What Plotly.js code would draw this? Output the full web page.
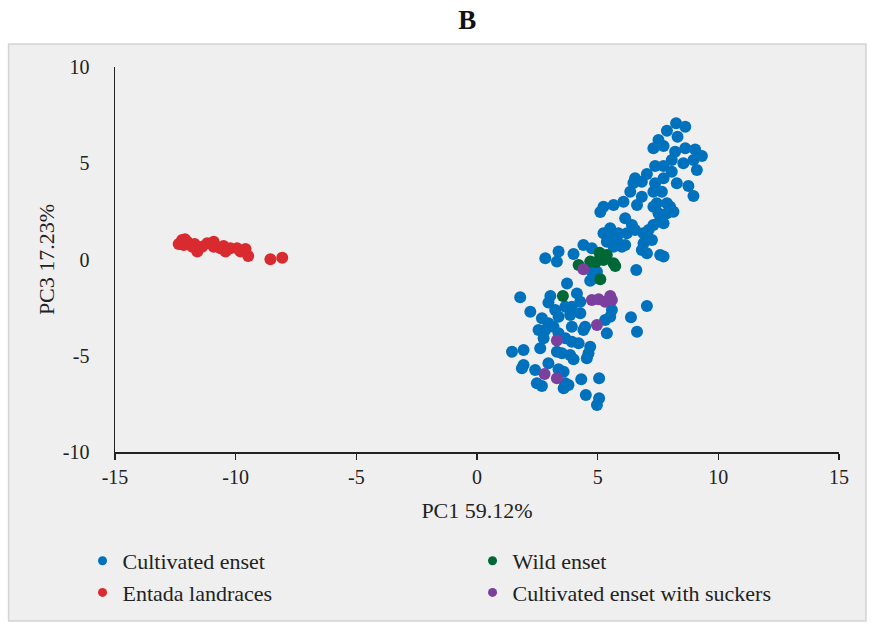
<!DOCTYPE html>
<html>
<head>
<meta charset="utf-8">
<script src="https://cdn.plot.ly/plotly-3.0.1.min.js"></script>
<style>
html,body{margin:0;padding:0;background:#fff;}
#chart{width:874px;height:624px;}
</style>
</head>
<body>
<div id="chart"></div>
<script>
// ---- data (PC1, PC3 scores) ----
const cultivatedX = [8.25,8.63,7.87,8.31,7.52,7.31,7.73,8.63,9.04,9.32,8.21,8.07,8.55,8.97,9.11,7.38,7.73,8.07,7.04,6.55,6.48,7.73,8.28,8.76,8.97,7.38,6.83,6.35,6.83,7.31,7.66,7.45,7.87,6.63,6.07,5.66,5.24,5.11,6.14,8.00,7.31,8.14,7.87,7.59,7.31,7.11,6.90,7.04,7.25,6.90,6.83,7.04,7.59,7.73,7.52,7.73,6.42,6.55,6.21,5.86,5.24,5.52,5.52,5.80,6.00,5.66,6.14,5.38,4.41,4.76,4.00,3.38,2.83,3.31,4.76,4.97,4.83,6.60,3.73,4.69,1.79,3.04,2.96,4.14,4.28,5.59,5.52,5.31,2.21,3.24,3.66,3.93,3.38,3.86,4.28,2.69,2.96,2.55,2.83,3.17,3.38,3.93,4.48,4.41,5.38,2.76,3.66,3.93,4.21,2.62,3.31,3.52,3.86,4.69,4.62,4.55,4.00,1.45,1.93,1.93,1.86,2.41,2.96,3.38,3.59,2.48,2.69,3.66,3.79,3.59,4.32,5.06,4.51,5.06,4.97,7.04,6.38,6.63];
const cultivatedY = [7.08,6.90,6.69,6.38,6.21,5.78,5.90,5.78,5.72,5.38,5.60,5.17,5.00,5.17,4.65,4.86,4.86,4.56,4.44,4.22,3.97,4.22,3.96,3.82,3.30,3.96,4.04,3.52,3.26,3.52,3.52,2.92,2.92,2.83,3.00,2.83,2.74,2.47,2.14,2.74,2.74,2.48,2.40,2.05,1.79,1.53,1.36,1.10,1.01,0.84,0.49,0.32,0.23,0.15,2.40,1.88,1.79,1.53,1.36,1.36,1.36,1.62,1.10,1.01,0.66,0.66,0.75,0.92,0.75,0.58,0.29,0.41,0.06,-0.11,-0.63,-0.63,-0.98,-0.55,-1.25,-1.10,-1.96,-1.90,-2.24,-1.76,-2.19,-2.62,-2.97,-3.14,-2.71,-2.62,-2.45,-2.45,-2.97,-2.88,-2.79,-3.05,-3.31,-3.66,-3.66,-3.49,-3.83,-3.49,-3.49,-3.66,-3.83,-4.09,-4.09,-4.27,-4.35,-4.61,-4.79,-4.87,-4.96,-4.53,-4.87,-5.13,-5.18,-4.79,-4.70,-5.48,-5.65,-5.74,-5.39,-5.70,-5.83,-6.43,-6.57,-6.43,-6.52,-6.69,-6.22,-6.17,-7.04,-7.21,-7.56,-2.42,-3.00,-3.75];

const wildX = [5.08,5.38,5.24,4.69,4.21,5.66,5.73,4.93,5.11,3.56];
const wildY = [0.35,0.23,-0.03,-0.11,-0.29,-0.20,-0.34,-0.13,-1.03,-1.90];

const entadaX = [-12.36,-12.22,-12.10,-12.01,-12.15,-11.80,-11.70,-11.59,-11.39,-11.18,-10.91,-10.91,-10.63,-10.50,-10.42,-10.22,-9.94,-9.80,-9.59,-9.48,-8.56,-8.07];
const entadaY = [0.80,1.01,1.05,0.92,0.75,0.66,0.80,0.41,0.66,0.84,0.92,0.66,0.58,0.70,0.41,0.58,0.58,0.41,0.55,0.18,0.01,0.09];

const suckersX = [4.41,4.76,5.04,5.31,5.59,5.52,4.97,3.31,2.80,3.31];
const suckersY = [-0.51,-2.10,-2.07,-2.19,-2.10,-1.90,-3.40,-4.21,-5.95,-6.17];

const seriesNames = ["Cultivated enset","Wild enset","Entada landraces","Cultivated enset with suckers"];
const seriesColors = ["#0071bc","#006837","#d92b2f","#7b3f9e"];

const xTicks = [-15,-10,-5,0,5,10,15];
const yTicks = [-10,-5,0,5,10];

const FONT = "Liberation Serif, Times New Roman, serif";

const xs = [cultivatedX, wildX, entadaX, suckersX];
const ys = [cultivatedY, wildY, entadaY, suckersY];

// data traces (drawn), legend entries use smaller dots like the original
const traces = xs.map((x, i) => ({
  type: "scatter",
  mode: "markers",
  name: seriesNames[i],
  legendgroup: "g" + i,
  showlegend: false,
  x: x,
  y: ys[i],
  marker: {size: 12, color: seriesColors[i], line: {width: 0}},
  hoverinfo: "x+y+name"
}));
const legendTraces = seriesNames.map((n, i) => ({
  type: "scatter",
  mode: "markers",
  name: n,
  legendgroup: "g" + i,
  showlegend: true,
  x: [null],
  y: [null],
  marker: {size: 9, color: seriesColors[i], line: {width: 0}},
  hoverinfo: "skip"
}));

// plot area pixel geometry
const L = 114.5, R = 839, T = 67, B = 452, W = 874, H = 624;
const pw = R - L, ph = B - T;
const px = p => (p - L) / pw;
const py = q => (B - q) / ph;

const layout = {
  width: W, height: H,
  margin: {l: L, r: W - R, t: T, b: H - B, pad: 0, autoexpand: false},
  paper_bgcolor: "#ffffff",
  plot_bgcolor: "rgba(0,0,0,0)",
  font: {family: FONT, color: "#222222", size: 20},
  title: {
    text: "<b>B</b>",
    font: {family: FONT, size: 27, color: "#111111"},
    xref: "paper", x: px(467), xanchor: "center",
    yref: "container", y: 1 - 20 / H, yanchor: "middle"
  },
  xaxis: {
    range: [-15, 15],
    tickvals: xTicks,
    ticktext: xTicks.map(String),
    showgrid: false, zeroline: false,
    showline: true, linecolor: "#222222", linewidth: 1.5,
    ticks: "outside", ticklen: 6, tickwidth: 1.5, tickcolor: "#222222",
    ticklabelstandoff: 0,
    automargin: false,
    tickfont: {family: FONT, size: 20, color: "#222222"},
    title: {text: "PC1 59.12%", font: {family: FONT, size: 22, color: "#222222"}, standoff: 16},
    fixedrange: true
  },
  yaxis: {
    range: [-10, 10],
    tickvals: yTicks,
    ticktext: yTicks.map(String),
    showgrid: false, zeroline: false,
    showline: true, linecolor: "#222222", linewidth: 1.5,
    ticks: "",
    ticklabelstandoff: 20,
    automargin: false,
    tickfont: {family: FONT, size: 20, color: "#222222"},
    title: {text: "PC3 17.23%", font: {family: FONT, size: 22, color: "#222222"}, standoff: 2},
    fixedrange: true
  },
  shapes: [{
    type: "rect", xref: "paper", yref: "paper", layer: "below",
    x0: px(8), x1: px(866), y0: py(621), y1: py(44),
    fillcolor: "#efefef", line: {color: "#d4d4d4", width: 1.5}
  }],
  legend: {
    orientation: "h",
    x: px(82), xanchor: "left",
    y: py(540), yanchor: "top",
    bgcolor: "rgba(0,0,0,0)",
    entrywidth: 345,
    entrywidthmode: "pixels",
    traceorder: "normal",
    font: {family: FONT, size: 22, color: "#222222"},
    itemclick: false, itemdoubleclick: false
  },
  showlegend: true
};

Plotly.newPlot("chart", traces.concat(legendTraces), layout, {displayModeBar: false, staticPlot: true});
</script>
</body>
</html>
